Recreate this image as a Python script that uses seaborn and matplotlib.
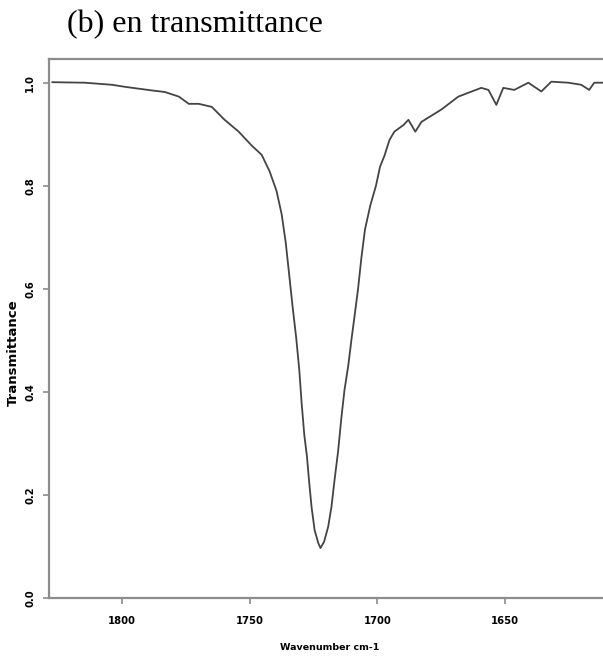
import pandas as pd
import matplotlib
matplotlib.use("Agg")
import matplotlib.pyplot as plt
import seaborn as sns

# Spectrum (wavenumber in cm-1, transmittance)
wavenumber = [1827.3, 1814.5, 1803.9, 1798.8, 1788.3, 1783.2, 1777.7, 1773.8,
              1769.9, 1764.8, 1759.8, 1754.3, 1749.2, 1745.3, 1742.2, 1739.5,
              1737.5, 1735.9, 1734.6, 1733.2, 1731.8, 1730.6, 1729.7, 1728.6,
              1727.6, 1726.8, 1725.8, 1724.6, 1723.2, 1722.3, 1720.9, 1719.3,
              1718.0, 1716.8, 1715.4, 1714.1, 1712.9, 1711.4, 1710.2, 1709.0,
              1707.6, 1706.3, 1704.9, 1702.8, 1700.6, 1699.0, 1697.3, 1695.3,
              1693.4, 1689.8, 1687.9, 1685.2, 1682.8, 1675.0, 1668.4, 1659.4,
              1656.6, 1653.5, 1650.8, 1646.5, 1641.0, 1635.9, 1632.0, 1625.4,
              1620.3, 1617.2, 1615.2, 1611.3]
transmittance = [1.001, 1.000, 0.996, 0.992, 0.985, 0.982, 0.973, 0.959,
                 0.959, 0.953, 0.928, 0.905, 0.878, 0.860, 0.828, 0.790,
                 0.745, 0.690, 0.630, 0.565, 0.505, 0.443, 0.380, 0.315,
                 0.275, 0.229, 0.177, 0.132, 0.107, 0.097, 0.109, 0.138,
                 0.177, 0.229, 0.285, 0.351, 0.404, 0.452, 0.501, 0.546,
                 0.600, 0.660, 0.715, 0.762, 0.800, 0.837, 0.858, 0.889,
                 0.905, 0.918, 0.928, 0.905, 0.924, 0.948, 0.973, 0.990,
                 0.986, 0.957, 0.990, 0.986, 1.000, 0.983, 1.002, 1.000,
                 0.996, 0.986, 1.000, 1.000]

x_ticks = [1800, 1750, 1700, 1650]
y_ticks = [0.0, 0.2, 0.4, 0.6, 0.8, 1.0]

df = pd.DataFrame({"Wavenumber": wavenumber, "Transmittance": transmittance})

sns.set_style("white")
plt.rcParams['font.family'] = ['DejaVu Sans']
plt.rcParams['text.color'] = 'black'

fig = plt.figure(figsize=(6.03, 6.62), dpi=100)
ax = fig.add_axes([49 / 603, 1 - 598 / 662, 556 / 603, 539 / 662])

sns.lineplot(data=df, x="Wavenumber", y="Transmittance", ax=ax,
             color="#444444", linewidth=1.3, sort=False)

ax.set_xlim(1828.5, 1611)
ax.set_ylim(0, 1.046)
ax.set_xticks(x_ticks)
ax.set_yticks(y_ticks)
ax.set_xticklabels([str(t) for t in x_ticks], fontsize=7.2, fontweight='bold')
ax.set_yticklabels([f"{t:.1f}" for t in y_ticks], fontsize=7.2, fontweight='bold',
                   rotation=90, va='center')

for side in ['left', 'bottom', 'top']:
    ax.spines[side].set_color("#8c8c8c")
    ax.spines[side].set_linewidth(1.6)
ax.spines['right'].set_visible(False)

ax.tick_params(axis='both', direction='out', length=4, width=1.2,
               color="#8c8c8c", labelcolor="black")
ax.tick_params(axis='x', pad=9, bottom=True)
ax.tick_params(axis='y', pad=6, left=True)

ax.set_xlabel("Wavenumber cm-1", fontsize=6.8, fontweight='bold', color='black')
ax.set_ylabel("Transmittance", fontsize=9.5, fontweight='bold', color='black')
ax.xaxis.set_label_coords(0.505, -0.083)
ax.yaxis.set_label_coords(-0.052, 0.455)

fig.text(67 / 603, 1 - 25 / 662, "(b) en transmittance", fontsize=23,
         family=['Liberation Serif', 'DejaVu Serif'], va='center', ha='left',
         color='black')

plt.savefig("out.png", dpi=100)
